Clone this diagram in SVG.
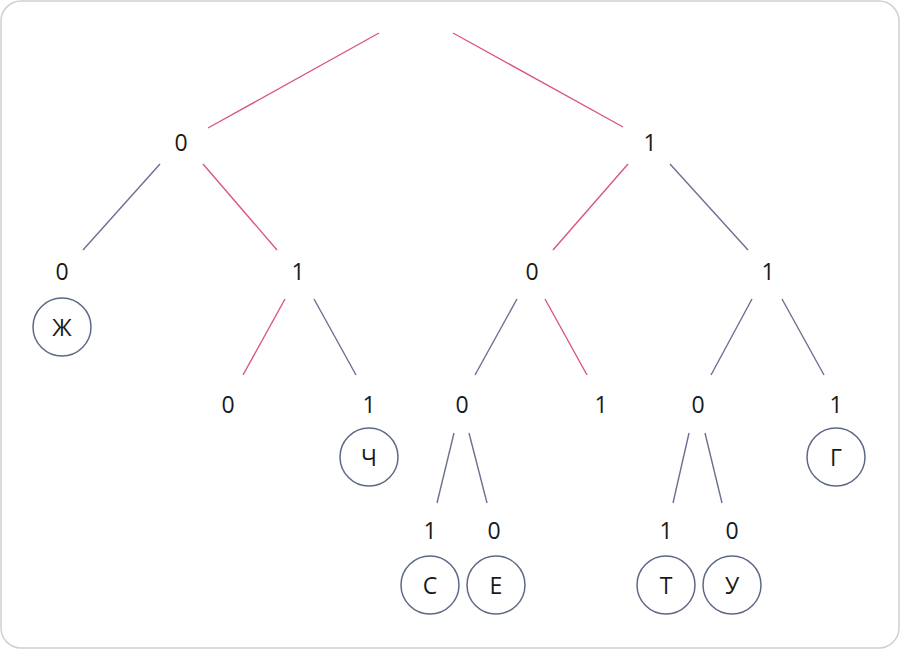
<svg xmlns="http://www.w3.org/2000/svg" width="900" height="650" viewBox="0 0 900 650">
<style>
.t{font-family:"Open Sans","Noto Sans","DejaVu Sans",sans-serif;font-size:23px;fill:#1a1a1a;text-anchor:middle;dominant-baseline:central}
.p{stroke:#d9577f;stroke-width:1.4;fill:none}
.g{stroke:#6a7190;stroke-width:1.4;fill:none}
.c{fill:#fff;stroke:#5f6887;stroke-width:1.5}
</style>
<rect x="1" y="1" width="898" height="647" rx="20" fill="#fff" stroke="#d0d0d0" stroke-width="1.5"/>
<g id="connectors">
<line class="p" x1="379" y1="33" x2="208" y2="128"/>
<line class="p" x1="453" y1="33" x2="623" y2="127"/>
<line class="g" x1="160" y1="164" x2="83" y2="250"/>
<line class="p" x1="203" y1="164" x2="277" y2="250"/>
<line class="p" x1="628" y1="164" x2="553" y2="250"/>
<line class="g" x1="670" y1="164" x2="748" y2="250"/>
<line class="p" x1="285" y1="299" x2="243" y2="375"/>
<line class="g" x1="314" y1="299" x2="356" y2="375"/>
<line class="g" x1="517" y1="299" x2="475" y2="375"/>
<line class="p" x1="545" y1="299" x2="587" y2="375"/>
<line class="g" x1="752" y1="299" x2="711" y2="375"/>
<line class="g" x1="782" y1="299" x2="824" y2="375"/>
<line class="g" x1="454" y1="433" x2="437" y2="503"/>
<line class="g" x1="469" y1="433" x2="487" y2="503"/>
<line class="g" x1="689" y1="433" x2="673" y2="503"/>
<line class="g" x1="705" y1="433" x2="722" y2="503"/>
</g>
<g id="n-l0"><text class="t" x="181" y="142">0</text></g>
<g id="n-r1"><text class="t" x="650" y="142">1</text></g>
<g id="n-00"><text class="t" x="62" y="271">0</text></g>
<g id="n-01"><text class="t" x="298" y="271">1</text></g>
<g id="n-10"><text class="t" x="532" y="271">0</text></g>
<g id="n-11"><text class="t" x="768" y="271">1</text></g>
<g id="n-010"><text class="t" x="228" y="404">0</text></g>
<g id="n-011"><text class="t" x="369" y="404">1</text></g>
<g id="n-100"><text class="t" x="462" y="404">0</text></g>
<g id="n-101"><text class="t" x="601" y="404">1</text></g>
<g id="n-110"><text class="t" x="698" y="404">0</text></g>
<g id="n-111"><text class="t" x="836" y="404">1</text></g>
<g id="n-1001"><text class="t" x="430" y="530">1</text></g>
<g id="n-1000"><text class="t" x="494" y="530">0</text></g>
<g id="n-1101"><text class="t" x="666" y="530">1</text></g>
<g id="n-1100"><text class="t" x="732" y="530">0</text></g>
<g id="leaf-zh"><circle class="c" cx="62" cy="327" r="29"/><text class="t" x="62" y="327">Ж</text></g>
<g id="leaf-ch"><circle class="c" cx="369" cy="457" r="29"/><text class="t" x="369" y="457">Ч</text></g>
<g id="leaf-g"><circle class="c" cx="836" cy="457" r="29"/><text class="t" x="836" y="457">Г</text></g>
<g id="leaf-s"><circle class="c" cx="430" cy="585" r="29"/><text class="t" x="430" y="585">С</text></g>
<g id="leaf-e"><circle class="c" cx="496" cy="585" r="29"/><text class="t" x="496" y="585">Е</text></g>
<g id="leaf-t"><circle class="c" cx="666" cy="585" r="29"/><text class="t" x="666" y="585">Т</text></g>
<g id="leaf-u"><circle class="c" cx="732" cy="585" r="29"/><text class="t" x="732" y="585">У</text></g>
</svg>
